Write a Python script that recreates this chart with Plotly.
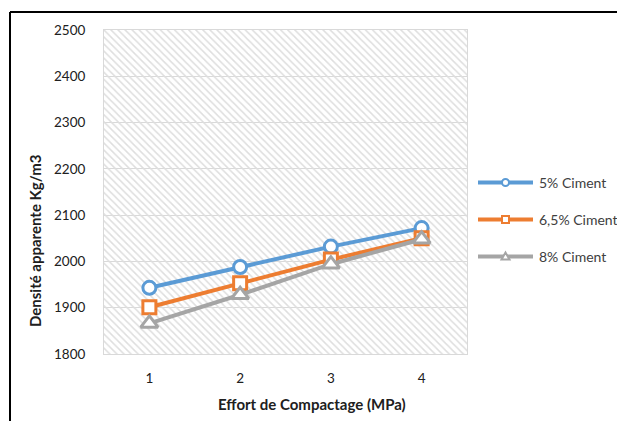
import plotly.graph_objects as go

# Compaction effort (MPa) and apparent density (kg/m3) per cement content
effort = [1, 2, 3, 4]
ciment_5 = [1943, 1988, 2032, 2072]
ciment_65 = [1901, 1953, 2004, 2050]
ciment_8 = [1866, 1928, 1994, 2048]

series_names = ["5% Ciment", "6,5% Ciment", "8% Ciment"]
series_values = [ciment_5, ciment_65, ciment_8]
colors = ["#5B9BD5", "#ED7D31", "#A5A5A5"]
symbols = ["circle", "square", "triangle-up"]

y_ticks = [1800, 1900, 2000, 2100, 2200, 2300, 2400, 2500]
Y_MIN, Y_MAX = 1800, 2500
X_MIN, X_MAX = 0.5, 4.5

FONT = "Lato"

fig = go.Figure()

# hatched plot-area background
fig.add_trace(go.Bar(
    x=[(X_MIN + X_MAX) / 2], y=[Y_MAX - Y_MIN], base=[Y_MIN], width=[X_MAX - X_MIN],
    marker=dict(color="rgba(0,0,0,0)", line=dict(width=0),
                pattern=dict(shape="\\", fgcolor="#dedede", bgcolor="rgba(0,0,0,0)",
                             size=5, solidity=0.3, fillmode="replace")),
    hoverinfo="skip", showlegend=False,
))

for name, vals, col, sym in zip(series_names, series_values, colors, symbols):
    size = 15 if sym == "triangle-up" else 13
    fig.add_trace(go.Scatter(
        x=effort, y=vals, name=name, mode="lines+markers",
        line=dict(color=col, width=4),
        marker=dict(symbol=sym, size=size, color="white", line=dict(color=col, width=3)),
        showlegend=False,
    ))

# plot area in pixels: left 104, right 467, top 30, bottom 354
L, R, T, B = 104, 467, 30, 354
W, H = R - L, B - T


def px(x):
    return (x - L) / W


def py(y):
    return (B - y) / H


shapes = []
annotations = []

# outer chart frame (left and top edges)
shapes.append(dict(type="line", xref="paper", yref="paper",
                   x0=px(10), y0=py(12), x1=px(640), y1=py(12),
                   line=dict(color="black", width=2)))
shapes.append(dict(type="line", xref="paper", yref="paper",
                   x0=px(10), y0=py(12), x1=px(10), y1=py(440),
                   line=dict(color="black", width=2)))

# custom legend
leg_y = [182.5, 219.5, 256.5]
for name, col, sym, ly in zip(series_names, colors, symbols, leg_y):
    shapes.append(dict(type="line", xref="paper", yref="paper",
                       x0=px(478), y0=py(ly), x1=px(533), y1=py(ly),
                       line=dict(color=col, width=4)))
    cx = 505.5
    if sym == "circle":
        shapes.append(dict(type="circle", xref="paper", yref="paper",
                           x0=px(cx - 3.5), x1=px(cx + 3.5), y0=py(ly + 3.5), y1=py(ly - 3.5),
                           fillcolor="white", line=dict(color=col, width=2)))
    elif sym == "square":
        shapes.append(dict(type="rect", xref="paper", yref="paper",
                           x0=px(cx - 3.5), x1=px(cx + 3.5), y0=py(ly + 3.5), y1=py(ly - 3.5),
                           fillcolor="white", line=dict(color=col, width=2)))
    else:
        path = "M {} {} L {} {} L {} {} Z".format(
            px(cx - 4), py(ly + 3), px(cx + 4), py(ly + 3), px(cx), py(ly - 4))
        shapes.append(dict(type="path", xref="paper", yref="paper", path=path,
                           fillcolor="white", line=dict(color=col, width=2)))
    annotations.append(dict(xref="paper", yref="paper", x=px(537), y=py(ly),
                            text=name, showarrow=False, xanchor="left", yanchor="middle",
                            font=dict(family=FONT, size=14, color="#404040")))

# axis titles
annotations.append(dict(xref="paper", yref="paper", x=px(312), y=py(404),
                        text="<b>Effort de Compactage (MPa)</b>", showarrow=False,
                        xanchor="center", yanchor="middle",
                        font=dict(family=FONT, size=15, color="#202020")))
annotations.append(dict(xref="paper", yref="paper", x=px(35), y=py(241),
                        text="<b>Densité apparente Kg/m3</b>", showarrow=False,
                        textangle=-90, xanchor="center", yanchor="middle",
                        font=dict(family=FONT, size=15, color="#202020")))

fig.update_layout(
    width=617, height=421,
    margin=dict(l=L, r=617 - R, t=T, b=421 - B, pad=0),
    paper_bgcolor="white", plot_bgcolor="white",
    font=dict(family=FONT, size=13, color="#202020"),
    showlegend=False,
    shapes=shapes, annotations=annotations,
    bargap=0,
)
fig.update_xaxes(range=[X_MIN, X_MAX], tickvals=effort, ticktext=[str(e) for e in effort],
                 showgrid=False, zeroline=False, showline=True, linecolor="#d9d9d9",
                 linewidth=1, mirror=True, ticks="", ticklabelstandoff=12,
                 tickfont=dict(family=FONT, size=13.5, color="#202020"))
fig.update_yaxes(range=[Y_MIN, Y_MAX], tickvals=y_ticks, showgrid=True, gridcolor="#d9d9d9",
                 gridwidth=1, zeroline=False, showline=True, linecolor="#d9d9d9",
                 linewidth=1, mirror=True, ticks="", ticklabelstandoff=15,
                 tickfont=dict(family=FONT, size=13.5, color="#202020"))

fig.write_html("out.html")
